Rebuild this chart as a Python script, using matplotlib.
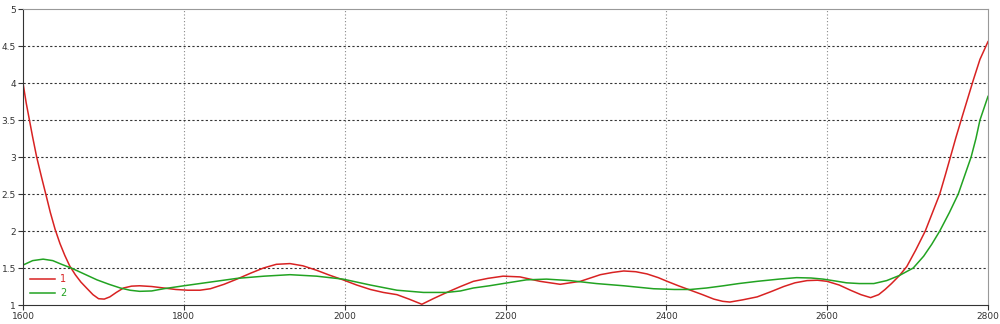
import matplotlib
matplotlib.use("Agg")
import matplotlib.pyplot as plt

# series 1 (red)
red_x = [1600, 1604, 1608, 1612, 1617, 1623, 1629, 1634, 1640, 1646,
         1652, 1658, 1665, 1672, 1679, 1687, 1694, 1701, 1708, 1716,
         1725, 1735, 1745, 1760, 1775, 1790, 1805, 1820, 1833, 1850,
         1866, 1883, 1899, 1915, 1932, 1948, 1965, 1982, 1998, 2015,
         2032, 2048, 2065, 2080, 2096, 2111, 2127, 2144, 2160, 2178,
         2197, 2218, 2243, 2268, 2293, 2318, 2333, 2347, 2362, 2376,
         2390, 2401, 2415, 2430, 2445, 2459, 2470, 2479, 2495, 2513,
         2530, 2546, 2560, 2575, 2588, 2600, 2615, 2629, 2642, 2654,
         2664, 2672, 2680, 2690, 2699, 2710, 2722, 2731, 2740,
         2747, 2753, 2760, 2768, 2775, 2782, 2790, 2800]
red_y = [4.00, 3.73, 3.50, 3.27, 3.00, 2.73, 2.47, 2.25, 2.02, 1.83,
         1.67, 1.53, 1.41, 1.31, 1.23, 1.14, 1.085, 1.08, 1.11, 1.17,
         1.23, 1.255, 1.26, 1.25, 1.23, 1.21, 1.20, 1.20, 1.22, 1.28,
         1.35, 1.43, 1.50, 1.55, 1.56, 1.53, 1.47, 1.40, 1.34, 1.27,
         1.21, 1.17, 1.14, 1.08, 1.01, 1.09, 1.17, 1.25, 1.32, 1.36,
         1.39, 1.38, 1.32, 1.28, 1.32, 1.41, 1.44, 1.46, 1.45, 1.42,
         1.37, 1.32, 1.26, 1.20, 1.14, 1.08, 1.05, 1.04, 1.07, 1.11,
         1.18, 1.25, 1.30, 1.33, 1.335, 1.32, 1.27, 1.20, 1.14, 1.10,
         1.14, 1.21, 1.29, 1.40, 1.52, 1.74, 2.00, 2.25, 2.50,
         2.76, 2.99, 3.26, 3.55, 3.80, 4.05, 4.32, 4.56]

# series 2 (green)
green_x = [1600, 1612, 1625, 1637, 1648, 1660, 1676, 1692, 1707, 1721,
           1733, 1745, 1760, 1775, 1800, 1833, 1866, 1900, 1932, 1965,
           1998, 2032, 2065, 2098, 2127, 2144, 2160, 2180, 2197, 2226,
           2251, 2280, 2313, 2347, 2384, 2410, 2430, 2450, 2471, 2490,
           2513, 2540, 2562, 2580, 2595, 2610, 2624, 2640, 2658, 2674,
           2690, 2707, 2720, 2730, 2740, 2752, 2763, 2771, 2779, 2785,
           2790, 2795, 2800]
green_y = [1.54, 1.60, 1.62, 1.60, 1.55, 1.50, 1.42, 1.34, 1.28, 1.23,
           1.20, 1.185, 1.19, 1.22, 1.26, 1.31, 1.36, 1.39, 1.41, 1.39,
           1.35, 1.27, 1.20, 1.17, 1.17, 1.19, 1.23, 1.26, 1.29, 1.34,
           1.35, 1.33, 1.29, 1.26, 1.22, 1.21, 1.21, 1.23, 1.26, 1.29,
           1.32, 1.35, 1.37, 1.365, 1.35, 1.325, 1.30, 1.29, 1.29, 1.33,
           1.40, 1.50, 1.66, 1.82, 2.00, 2.25, 2.50, 2.75, 3.00, 3.25,
           3.50, 3.66, 3.82]

xticks = [1600, 1800, 2000, 2200, 2400, 2600, 2800]
yticks = [1, 1.5, 2, 2.5, 3, 3.5, 4, 4.5, 5]
ytick_labels = ["1", "1.5", "2", "2.5", "3", "3.5", "4", "4.5", "5"]

fig = plt.figure(figsize=(10, 3.24), dpi=100)
ax = fig.add_axes([0.023, 0.0586, 0.965, 0.9134])

ax.plot(red_x, red_y, color="#d82222", lw=1.1, label="1")
ax.plot(green_x, green_y, color="#22a322", lw=1.1, label="2")

ax.set_xlim(1600, 2800)
ax.set_ylim(1, 5)
ax.set_xticks(xticks)
ax.set_yticks(yticks)
ax.set_yticklabels(ytick_labels)
ax.tick_params(labelsize=6.5, colors="#333333", length=3.5, width=0.8, pad=1.5)

# horizontal dashed, vertical dotted
for yv in yticks[1:-1]:
    ax.axhline(yv, color="#333333", lw=0.8, ls=(0, (2, 2)), zorder=0)
for xv in xticks[1:-1]:
    ax.axvline(xv, color="#888888", lw=0.8, ls=(0, (1, 2)), zorder=0)

ax.spines["left"].set_color("#333333")
ax.spines["bottom"].set_color("#333333")
ax.spines["top"].set_color("#999999")
ax.spines["right"].set_color("#999999")
for s in ax.spines.values():
    s.set_linewidth(0.8)

ax.legend(loc="lower left", frameon=False, fontsize=7, labelcolor="linecolor",
          handlelength=2.6, handletextpad=0.5, borderaxespad=0.3,
          labelspacing=0.4)

fig.savefig("out.png", dpi=100)
